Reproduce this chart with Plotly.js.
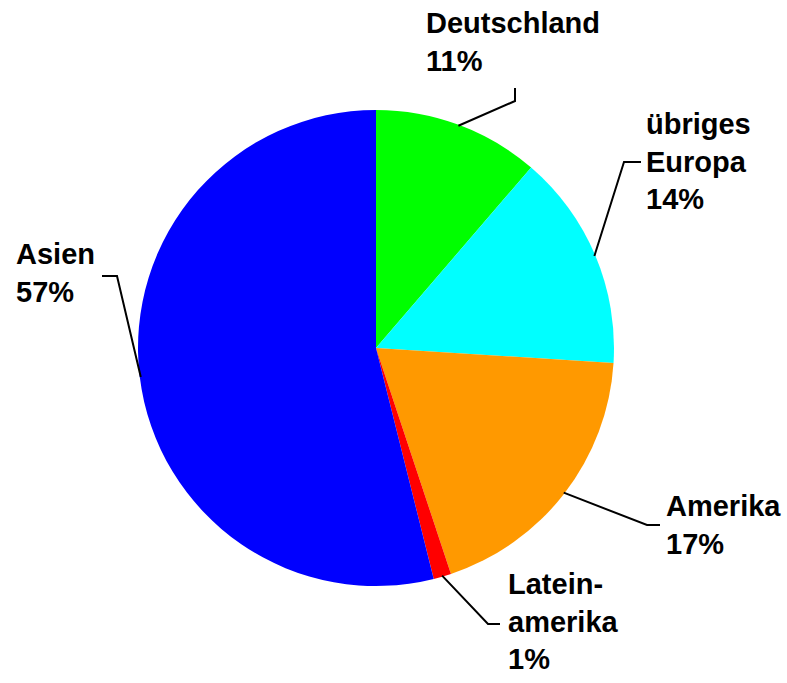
<!DOCTYPE html>
<html>
<head>
<meta charset="utf-8">
<script src="https://cdn.plot.ly/plotly-3.0.1.min.js"></script>
<style>html,body{margin:0;padding:0;background:#fff;}#chart{width:787px;height:683px;}</style>
</head>
<body>
<div id="chart"></div>
<script>
// Data
var categories = ["Deutschland", "übriges Europa", "Amerika", "Lateinamerika", "Asien"];
var labelLines = [["Deutschland"], ["übriges", "Europa"], ["Amerika"], ["Latein-", "amerika"], ["Asien"]];
var printedPct = ["11%", "14%", "17%", "1%", "57%"];
var sliceValues = [11.3, 14.7, 18.9, 1.2, 53.9];
var colors = ["#00FF00", "#00FFFF", "#FF9900", "#FF0000", "#0000FF"];

// Layout (pixels in a 787x683 page)
var W = 787, H = 683;
var cx = 376, cy = 348, R = 238;
// label box anchor (left, top) and leader elbow point per slice
var labelPos = [[424, 5], [644, 106], [664, 488], [506, 566], [14, 236]];
var elbows = [[[515, 88], [515, 101]], [[641, 162], [624, 162]], [[660, 525], [647, 525]], [[500, 624], [488, 624]], [[102, 276], [117, 276]]];

function px(x) { return x / W; }
function py(y) { return 1 - y / H; }

var total = sliceValues.reduce(function (a, b) { return a + b; }, 0);
var shapes = [], annotations = [];
var cum = 0;
for (var i = 0; i < sliceValues.length; i++) {
  var mid = (cum + sliceValues[i] / 2) / total * 2 * Math.PI;
  cum += sliceValues[i];
  var sx = cx + (R - 1) * Math.sin(mid);
  var sy = cy - (R - 1) * Math.cos(mid);
  var e = elbows[i];
  var path = "M" + px(e[0][0]) + "," + py(e[0][1]) + " L" + px(e[1][0]) + "," + py(e[1][1]) + " L" + px(sx) + "," + py(sy);
  shapes.push({type: "path", xref: "paper", yref: "paper", path: path, line: {color: "#000", width: 2}});
  annotations.push({
    xref: "paper", yref: "paper", x: px(labelPos[i][0]), y: py(labelPos[i][1]),
    xanchor: "left", yanchor: "top", align: "left", showarrow: false,
    text: "<b>" + labelLines[i].concat([printedPct[i]]).join("<br>") + "</b>",
    font: {family: "Liberation Sans, Arial, sans-serif", size: 29, color: "#000"}
  });
}

var trace = {
  type: "pie",
  labels: categories,
  values: sliceValues,
  sort: false,
  direction: "clockwise",
  rotation: 0,
  textinfo: "none",
  hoverinfo: "label+percent",
  marker: {colors: colors, line: {width: 0}},
  domain: {x: [px(cx - R), px(cx + R)], y: [py(cy + R), py(cy - R)]}
};

var layout = {
  width: W, height: H,
  margin: {l: 0, r: 0, t: 0, b: 0},
  paper_bgcolor: "#fff",
  showlegend: false,
  shapes: shapes,
  annotations: annotations
};

Plotly.newPlot("chart", [trace], layout, {displayModeBar: false, staticPlot: true});
</script>
</body>
</html>
